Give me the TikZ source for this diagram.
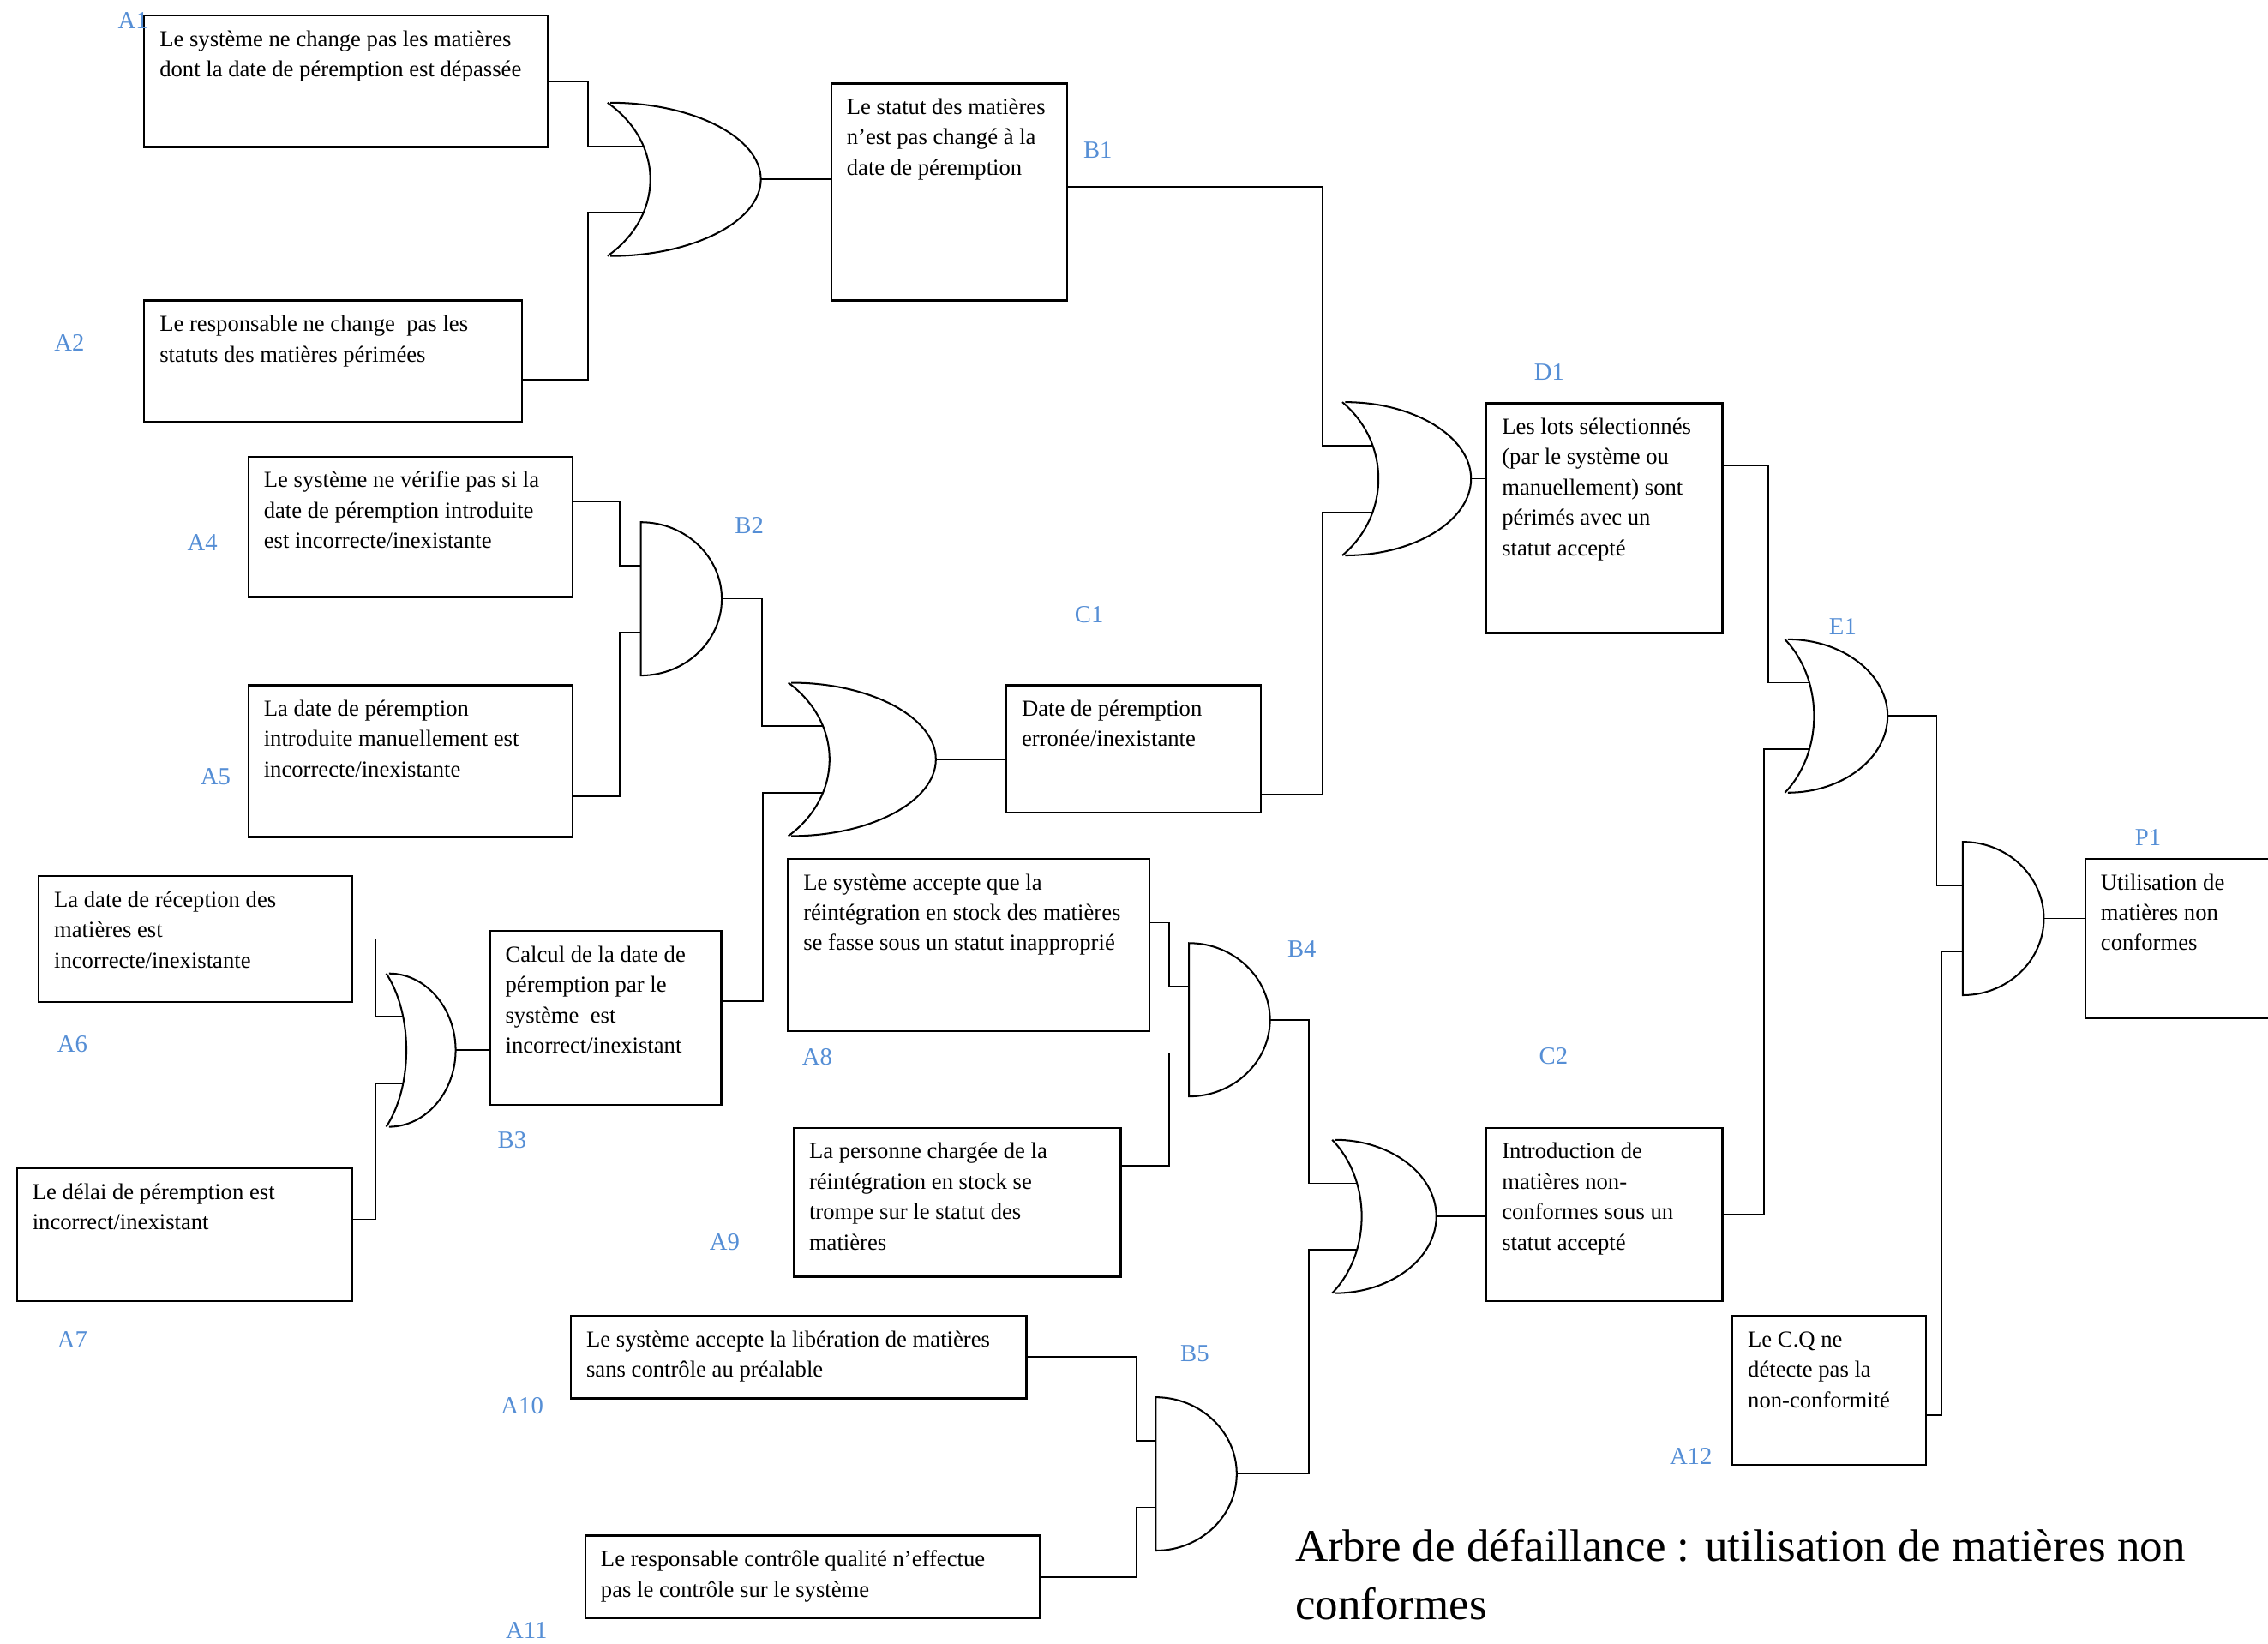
\documentclass[tikz,border=0pt]{standalone}
\usepackage{fontspec}
\setmainfont{Liberation Serif}
\usepackage{xcolor}
\definecolor{lblblue}{RGB}{85,142,213}

\tikzset{
  evframe/.style={draw, line width=0.7pt, anchor=north west, inner sep=0pt},
  evtext/.style={anchor=north west, inner sep=0pt, align=left, font=\fontsize{7.9}{10.5}\selectfont},
  lbl/.style={text=lblblue, inner sep=0pt, font=\fontsize{8.5}{10}\selectfont},
  ttl/.style={anchor=north west, inner sep=0pt, align=left, font=\fontsize{15.7}{20}\selectfont},
  wire/.style={line width=0.5pt},
  % 或门：#1 为门的长度
  orgate/.pic={
    \draw[line width=0.6pt] (-2,-53) .. controls (0.36*#1,-25) and (0.36*#1,25) .. (-2,53);
    \draw[line width=0.6pt] (0,-53) .. controls (0.55*#1,-53) and (#1,-29) .. (#1,0)
      .. controls (#1,29) and (0.55*#1,53) .. (0,53);
    \coordinate (-in1) at (0.22*#1,-23);
    \coordinate (-in2) at (0.22*#1,23);
    \coordinate (-out) at (#1,0);
  },
  % 与门
  andgate/.pic={
    \draw[line width=0.6pt] (0,-53) .. controls (31,-53) and (56,-29) .. (56,0)
      .. controls (56,29) and (31,53) .. (0,53) -- cycle;
    \coordinate (-in1) at (0,-23);
    \coordinate (-in2) at (0,23);
    \coordinate (-out) at (56,0);
  },
}

% 事件框：名字, 左上角, 右下角, 文字
\newcommand{\evbox}[6]{%
  \node[evframe, minimum width={(#4-#2)*0.5pt}, minimum height={(#5-#3)*0.5pt}] (#1) at (#2,#3) {};
  \node[evtext] (#1-t) at ([shift={(11,7)}]#1.north west) {\strut #6};
}

\begin{document}
\begin{tikzpicture}[x=0.5pt, y=-0.5pt]
  \useasboundingbox (0,0) rectangle (1568,1136);
  \clip (0,0) rectangle (1568,1136);

  % 事件框
  \evbox{A1}{99}{10}{378}{101}{Le système ne change pas les matières\\dont la date de péremption est dépassée}
  \evbox{A2}{99}{207}{360}{291}{Le responsable ne change~ pas les\\statuts des matières périmées}
  \evbox{B1}{574}{57}{737}{207}{Le statut des matières\\n’est pas changé à la\\date de péremption}
  \evbox{A4}{171}{315}{395}{412}{Le système ne vérifie pas si la\\date de péremption introduite\\est incorrecte/inexistante}
  \evbox{A5}{171}{473}{395}{578}{La date de péremption\\introduite manuellement est\\incorrecte/inexistante}
  \evbox{C1}{695}{473}{871}{561}{Date de péremption\\erronée/inexistante}
  \evbox{A6}{26}{605}{243}{692}{La date de réception des\\matières est\\incorrecte/inexistante}
  \evbox{A7}{11}{807}{243}{899}{Le délai de péremption est\\incorrect/inexistant}
  \evbox{B3}{338}{643}{498}{763}{Calcul de la date de\\péremption par le\\système~ est\\incorrect/inexistant}
  \evbox{A8}{544}{593}{794}{712}{Le système accepte que la\\réintégration en stock des matières\\se fasse sous un statut inapproprié}
  \evbox{A9}{548}{779}{774}{882}{La personne chargée de la\\réintégration en stock se\\trompe sur le statut des\\matières}
  \evbox{A10}{394}{909}{709}{966}{Le système accepte la libération de matières\\sans contrôle au préalable}
  \evbox{A11}{404}{1061}{718}{1118}{Le responsable contrôle qualité n’effectue\\pas le contrôle sur le système}
  \evbox{D1}{1027}{278}{1190}{437}{Les lots sélectionnés\\(par le système ou\\manuellement) sont\\périmés avec un\\statut accepté}
  \evbox{C2}{1027}{779}{1190}{899}{Introduction de\\matières non-\\conformes sous un\\statut accepté}
  \evbox{A12}{1197}{909}{1331}{1012}{Le C.Q ne\\détecte pas la\\non-conformité}
  \evbox{P1}{1441}{593}{1590}{703}{Utilisation de\\matières non\\conformes}

  % 逻辑门
  \foreach \g/\x/\y/\w in {B1/422/124/104, D1/930/331/87, E1/1236/495/69, C1/547/525/100, B3/269/726/46, C2/923/841/70}
    \pic (g\g) at (\x,\y) {orgate=\w};
  \foreach \g/\x/\y in {B2/443/414, B4/822/705, B5/799/1019, P1/1357/635}
    \pic (g\g) at (\x,\y) {andgate};

  % 连线
  \draw[wire] (A1.east) -- ++(27,0) |- (gB1-in1);
  \draw[wire] (A2.south east) ++(0,-30) -- ++(45,0) |- (gB1-in2);
  \draw[wire] (gB1-out) -- (gB1-out -| B1.west);
  \draw[wire] (B1.north east) ++(0,72) -- ++(176,0) |- (gD1-in1);
  \draw[wire] (C1.south east) ++(0,-13) -- ++(42,0) |- (gD1-in2);
  \draw[wire] (gD1-out) -- (gD1-out -| D1.west);
  \draw[wire] (D1.north east) ++(0,44) -- ++(31,0) |- (gE1-in1);
  \draw[wire] (C2.east) -- ++(28,0) |- (gE1-in2);
  \draw[wire] (gE1-out) -- ++(34,0) |- (gP1-in1);
  \draw[wire] (A12.south east) ++(0,-35) -- ++(10,0) |- (gP1-in2);
  \draw[wire] (gP1-out) -- (gP1-out -| P1.west);

  \draw[wire] (A4.north east) ++(0,32) -- ++(32,0) |- (gB2-in1);
  \draw[wire] (A5.south east) ++(0,-29) -- ++(32,0) |- (gB2-in2);
  \draw[wire] (gB2-out) -- ++(28,0) |- (gC1-in1);
  \draw[wire] (B3.north east) ++(0,49) -- ++(28,0) |- (gC1-in2);
  \draw[wire] (gC1-out) -- (gC1-out -| C1.west);
  \draw[wire] (A6.east) -- ++(15,0) |- (gB3-in1);
  \draw[wire] (A7.north east) ++(0,36) -- ++(15,0) |- (gB3-in2);
  \draw[wire] (gB3-out) -- (gB3-out -| B3.west);

  \draw[wire] (A8.north east) ++(0,45) -- ++(13,0) |- (gB4-in1);
  \draw[wire] (A9.north east) ++(0,27) -- ++(33,0) |- (gB4-in2);
  \draw[wire] (gB4-out) -- ++(27,0) |- (gC2-in1);
  \draw[wire] (A10.east) -- ++(75,0) |- (gB5-in1);
  \draw[wire] (A11.east) -- ++(66,0) |- (gB5-in2);
  \draw[wire] (gB5-out) -- ++(50,0) |- (gC2-in2);
  \draw[wire] (gC2-out) -- (gC2-out -| C2.west);

  % 编号
  \foreach \n/\x/\y in {A1/92/14, A2/48/237, A4/140/375, A5/149/537, A6/50/722, A7/50/926,
      A8/565/731, A9/501/859, A10/361/972, A11/364/1127, A12/1169/1007, B1/759/104,
      B2/518/363, B3/354/788, B4/900/656, B5/826/936, C1/753/425, C2/1074/730,
      D1/1071/257, E1/1274/433, P1/1485/579}
    \node[lbl] (l\n) at (\x,\y) {\n};

  \node[ttl] (title) at (895,1051) {\strut Arbre de défaillance : utilisation de matières non\\conformes};
\end{tikzpicture}
\end{document}
